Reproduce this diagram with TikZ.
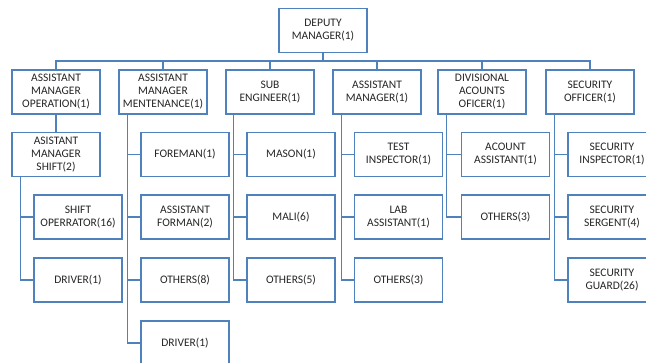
\documentclass[tikz,border=0pt]{standalone}
\usepackage{fontspec}
\setmainfont{Carlito}
\definecolor{boxblue}{HTML}{4F81BD}
\definecolor{txt}{HTML}{262626}
\begin{document}
\begin{tikzpicture}[x=1pt,y=-1pt,
  box/.style={draw=boxblue, line width=1.5pt, fill=white, minimum width=88pt, minimum height=44pt,
    inner sep=0pt, align=center, text=txt, font=\fontsize{11.5}{13}\selectfont},
  link/.style={draw=boxblue, line width=1.5pt}]
\useasboundingbox (0,0) rectangle (646,363);
\clip (0,0) rectangle (646,363);
% top
\node[box] (top) at (323,30.5) {DEPUTY\\MANAGER(1)};
% level 1
\node[box] (b1) at (56,92) {ASSISTANT\\MANAGER\\OPERATION(1)};
\node[box] (b2) at (163,92) {ASSISTANT\\MANAGER\\MENTENANCE(1)};
\node[box] (b3) at (270,92) {SUB\\ENGINEER(1)};
\node[box] (b4) at (377,92) {ASSISTANT\\MANAGER(1)};
\node[box] (b5) at (482,92) {DIVISIONAL\\ACOUNTS\\OFICER(1)};
\node[box] (b6) at (590,92) {SECURITY\\OFFICER(1)};
\coordinate (bus) at (323,61);
\foreach \n in {b1,b2,b3,b4,b5,b6}
  \draw[link] (top.south) -- (top.south |- bus) -| (\n.north);
% column 1
\node[box] (s1) at (56,154.5) {ASISTANT\\MANAGER\\SHIFT(2)};
\draw[link] (b1.south) -- (s1.north);
\node[box] (c1a) at (78,217) {SHIFT\\OPERRATOR(16)};
\node[box] (c1b) at (78,280) {DRIVER(1)};
\draw[link] ([xshift=9pt]s1.south west) |- (c1b.west);
\draw[link] ([xshift=9pt]s1.south west) |- (c1a.west);
% column 2
\node[box] (c2a) at (185,154.5) {FOREMAN(1)};
\node[box] (c2b) at (185,217) {ASSISTANT\\FORMAN(2)};
\node[box] (c2c) at (185,280) {OTHERS(8)};
\node[box] (c2d) at (185,343) {DRIVER(1)};
\foreach \n in {c2a,c2b,c2c,c2d}
  \draw[link] ([xshift=9pt]b2.south west) |- (\n.west);
% column 3
\node[box] (c3a) at (291,154.5) {MASON(1)};
\node[box] (c3b) at (291,217) {MALI(6)};
\node[box] (c3c) at (291,280) {OTHERS(5)};
\foreach \n in {c3a,c3b,c3c}
  \draw[link] ([xshift=8pt]b3.south west) |- (\n.west);
% column 4
\node[box] (c4a) at (398.5,154.5) {TEST\\INSPECTOR(1)};
\node[box] (c4b) at (398.5,217) {LAB\\ASSISTANT(1)};
\node[box] (c4c) at (398.5,280) {OTHERS(3)};
\foreach \n in {c4a,c4b,c4c}
  \draw[link] ([xshift=9pt]b4.south west) |- (\n.west);
% column 5
\node[box] (c5a) at (505.5,154.5) {ACOUNT\\ASSISTANT(1)};
\node[box] (c5b) at (505.5,217) {OTHERS(3)};
\foreach \n in {c5a,c5b}
  \draw[link] ([xshift=9pt]b5.south west) |- (\n.west);
% column 6
\node[box] (c6a) at (612,154.5) {SECURITY\\INSPECTOR(1)};
\node[box] (c6b) at (612,217) {SECURITY\\SERGENT(4)};
\node[box] (c6c) at (612,280) {SECURITY\\GUARD(26)};
\foreach \n in {c6a,c6b,c6c}
  \draw[link] ([xshift=9pt]b6.south west) |- (\n.west);
\end{tikzpicture}
\end{document}
